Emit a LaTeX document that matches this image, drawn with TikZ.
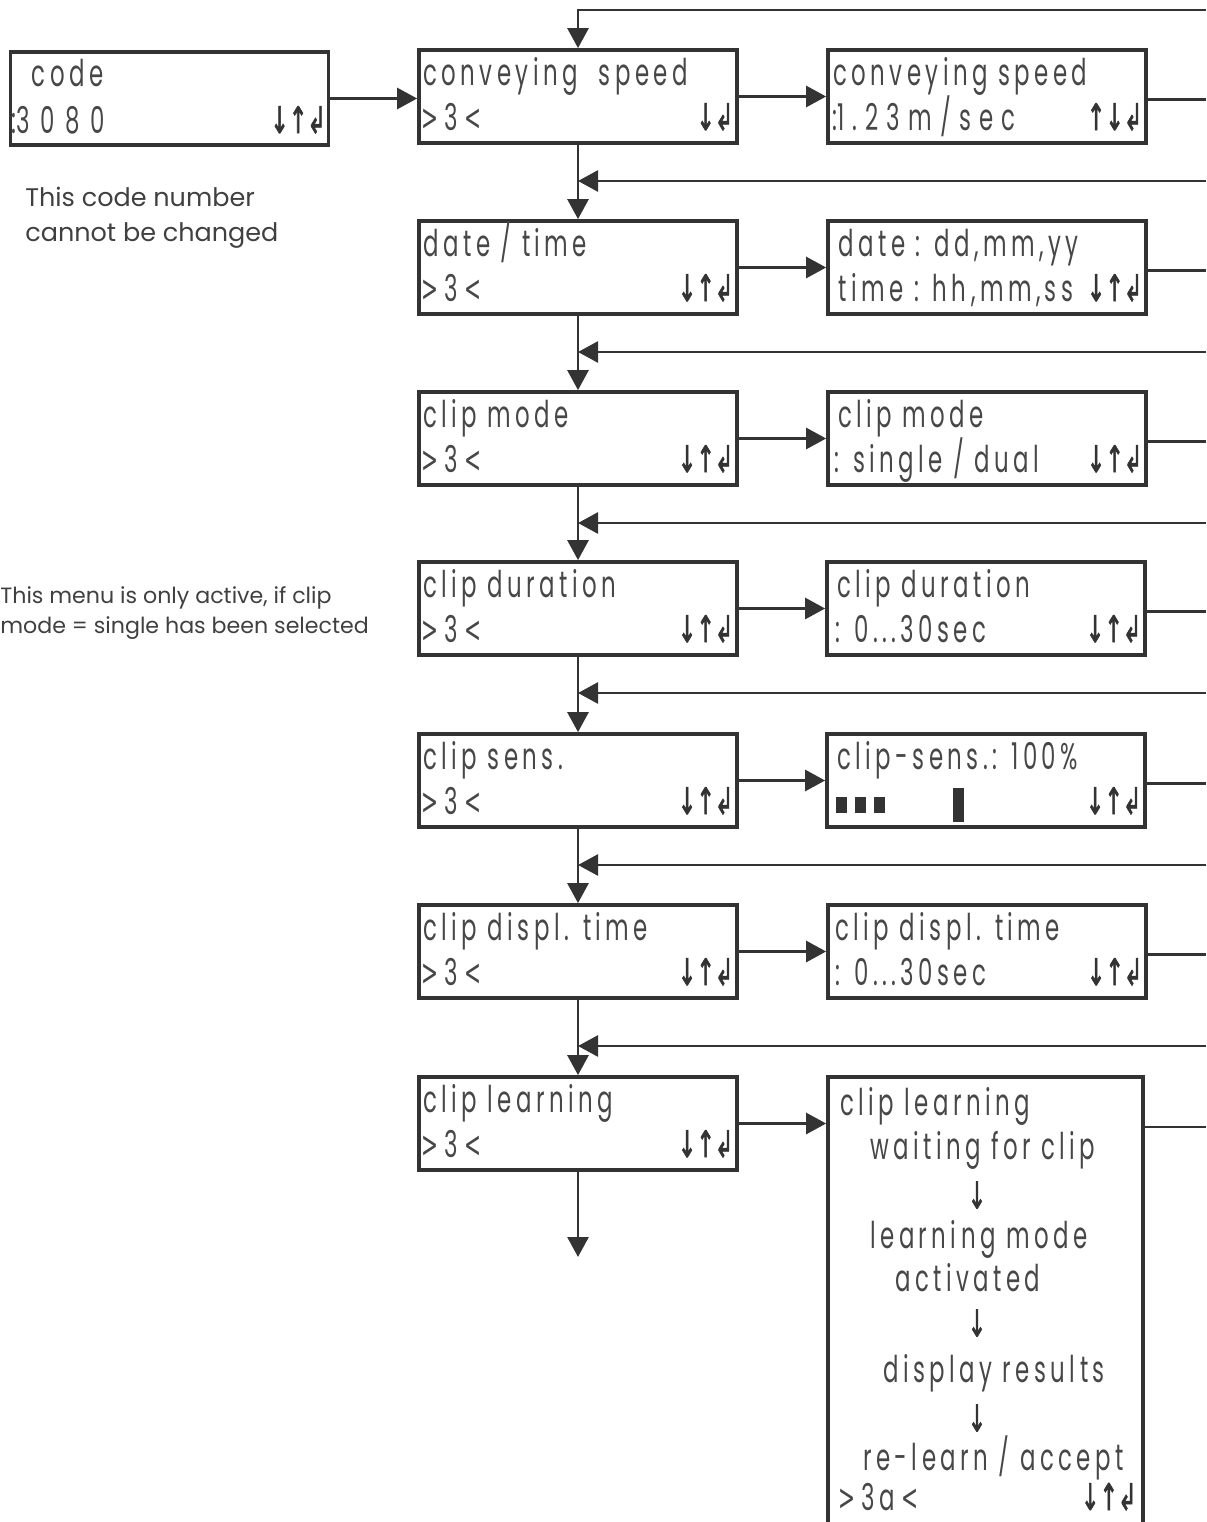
\documentclass[tikz,border=0pt]{standalone}
\usepackage{fontspec}
\setmainfont{Poppins}
\newfontfamily\lcdfont{Poppins}[FakeStretch=0.62,LetterSpace=12]
\newfontfamily\keyfont{DejaVu Sans}[FakeStretch=0.6,FakeBold=1.6]
\newfontfamily\chevfont{DejaVu Sans}[FakeStretch=0.55]
\usetikzlibrary{arrows.meta}
\definecolor{ink}{HTML}{333333}
\newcommand{\menuno}[1]{{\chevfont >}\,#1\,{\chevfont <}}

\tikzset{
  lcdbox/.style={draw=ink, line width=0.75mm, minimum width={318*0.2mm}, minimum height={93*0.2mm}, inner sep=0pt},
  lcd/.style={inner sep=0pt, text=black!72, anchor=base west, font=\lcdfont\fontsize{21}{25}\selectfont},
  keysym/.style={inner sep=0pt, text=ink, font=\keyfont\fontsize{21}{24}\selectfont},
  flow/.style={draw=ink, line width=0.55mm, -{Triangle[length=4mm,width=4.2mm]}},
  wire/.style={draw=ink, line width=0.55mm},
  note/.style={inner sep=0pt, text=black!75, anchor=base west},
}

\begin{document}
\begin{tikzpicture}[x=0.2mm,y=-0.2mm]
\useasboundingbox (0,0) rectangle (1206,1522);
\clip (0,0) rectangle (1206,1522);

% Draw the code display and its note
\node[lcdbox] (code) at (169.5,98.5) {};
\node[lcd] (codea) at ([shift={(23,36)}]code.north west) {code};
\node[lcd] (codeb) at ([shift={(3,83)}]code.north west) {:\addfontfeature{LetterSpace=28}3080};
\node[keysym, anchor=base east] (codek) at ([shift={(-4,83)}]code.north east) {↓↑↲};
\node[note, font=\fontsize{14.5}{17}\selectfont] (notea) at (25,207) {This code number};
\node[note, font=\fontsize{14.5}{17}\selectfont] (noteb) at (25,242) {cannot be changed};
\node[note, font=\fontsize{12.6}{15}\selectfont] (notec) at (0,603) {This menu is only active, if clip};
\node[note, font=\fontsize{12.6}{15}\selectfont] (noted) at (0,633) {mode = single has been selected};

% Draw the menu column
\node[lcdbox] (L1) at (578,96.5) {};
\node[lcdbox] (L2) at (578,267.5) {};
\node[lcdbox] (L3) at (578,438.5) {};
\node[lcdbox] (L4) at (578,608.5) {};
\node[lcdbox] (L5) at (578,780.5) {};
\node[lcdbox] (L6) at (578,951.5) {};
\node[lcdbox] (L7) at (578,1123.5) {};

\node[lcd] (L1a) at ([shift={(6,37)}]L1.north west) {conveying\ \ speed};
\node[lcd] (L2a) at ([shift={(6,37)}]L2.north west) {date / time};
\node[lcd] (L3a) at ([shift={(6,37)}]L3.north west) {clip mode};
\node[lcd] (L4a) at ([shift={(6,37)}]L4.north west) {clip duration};
\node[lcd] (L5a) at ([shift={(6,37)}]L5.north west) {clip sens.};
\node[lcd] (L6a) at ([shift={(6,37)}]L6.north west) {clip displ. time};
\node[lcd] (L7a) at ([shift={(6,37)}]L7.north west) {clip learning};

\node[lcd] (L1b) at ([shift={(4,82)}]L1.north west) {\menuno{3}};
\node[lcd] (L2b) at ([shift={(4,82)}]L2.north west) {\menuno{3}};
\node[lcd] (L3b) at ([shift={(4,82)}]L3.north west) {\menuno{3}};
\node[lcd] (L4b) at ([shift={(4,82)}]L4.north west) {\menuno{3}};
\node[lcd] (L5b) at ([shift={(4,82)}]L5.north west) {\menuno{3}};
\node[lcd] (L6b) at ([shift={(4,82)}]L6.north west) {\menuno{3}};
\node[lcd] (L7b) at ([shift={(4,82)}]L7.north west) {\menuno{3}};

\node[keysym, anchor=base east] (L1k) at ([shift={(-5,82)}]L1.north east) {↓↲};
\node[keysym, anchor=base east] (L2k) at ([shift={(-5,82)}]L2.north east) {↓↑↲};
\node[keysym, anchor=base east] (L3k) at ([shift={(-5,82)}]L3.north east) {↓↑↲};
\node[keysym, anchor=base east] (L4k) at ([shift={(-5,82)}]L4.north east) {↓↑↲};
\node[keysym, anchor=base east] (L5k) at ([shift={(-5,82)}]L5.north east) {↓↑↲};
\node[keysym, anchor=base east] (L6k) at ([shift={(-5,82)}]L6.north east) {↓↑↲};
\node[keysym, anchor=base east] (L7k) at ([shift={(-5,82)}]L7.north east) {↓↑↲};

% Draw the setting column
\node[lcdbox] (R1) at (987,96.5) {};
\node[lcdbox] (R2) at (987,267.5) {};
\node[lcdbox] (R3) at (987,438.5) {};
\node[lcdbox] (R4) at (986,608.5) {};
\node[lcdbox] (R5) at (986,780.5) {};
\node[lcdbox] (R6) at (987,951.5) {};
\node[lcdbox, minimum width={315*0.2mm}, minimum height={470*0.2mm}] (R7) at (985.5,1312) {};

\node[lcd] (R1a) at ([shift={(7,37)}]R1.north west) {conveying speed};
\node[lcd] (R1b) at ([shift={(6,82)}]R1.north west) {:\addfontfeature{LetterSpace=22}1.23m/sec};
\node[keysym, anchor=base east] (R1k) at ([shift={(-5,82)}]R1.north east) {↑↓↲};

\node[lcd] (R2a) at ([shift={(12,37)}]R2.north west) {date : dd,mm,yy};
\node[lcd] (R2b) at ([shift={(12,82)}]R2.north west) {time : hh,mm,ss};
\node[keysym, anchor=base east] (R2k) at ([shift={(-5,82)}]R2.north east) {↓↑↲};

\node[lcd] (R3a) at ([shift={(12,37)}]R3.north west) {clip mode};
\node[lcd] (R3b) at ([shift={(8,82)}]R3.north west) {: single / dual};
\node[keysym, anchor=base east] (R3k) at ([shift={(-5,82)}]R3.north east) {↓↑↲};

\node[lcd] (R4a) at ([shift={(12,37)}]R4.north west) {clip duration};
\node[lcd] (R4b) at ([shift={(10,82)}]R4.north west) {: 0...30sec};
\node[keysym, anchor=base east] (R4k) at ([shift={(-5,82)}]R4.north east) {↓↑↲};

\node[lcd] (R5a) at ([shift={(12,37)}]R5.north west) {clip-sens.: 100\%};
\node[keysym, anchor=base east] (R5k) at ([shift={(-5,82)}]R5.north east) {↓↑↲};
\fill[ink] (836,797) rectangle (847,813);
\fill[ink] (855,797) rectangle (866,813);
\fill[ink] (874,797) rectangle (885,813);
\fill[ink] (953,788) rectangle (964,822);

\node[lcd] (R6a) at ([shift={(9,37)}]R6.north west) {clip displ. time};
\node[lcd] (R6b) at ([shift={(9,82)}]R6.north west) {: 0...30sec};
\node[keysym, anchor=base east] (R6k) at ([shift={(-5,82)}]R6.north east) {↓↑↲};

\node[lcd] (R7a) at (840,1115) {clip learning};
\node[lcd] (R7b) at (870,1159) {waiting for clip};
\node[keysym] (R7c) at (977,1195) {↓};
\node[lcd] (R7d) at (870,1248) {learning mode};
\node[lcd] (R7e) at (895,1291) {activated};
\node[keysym] (R7f) at (977,1323) {↓};
\node[lcd] (R7g) at (883,1382) {display results};
\node[keysym] (R7h) at (977,1418) {↓};
\node[lcd] (R7i) at (863,1470) {re-learn / accept};
\node[lcd] (R7j) at (838,1510) {\menuno{3a}};
\node[keysym, anchor=base east] (R7k) at (1137,1510) {↓↑↲};

% Return points at the right edge
\coordinate (back0) at (1206,10);
\coordinate (back1) at (1206,181);
\coordinate (back2) at (1206,352);
\coordinate (back3) at (1206,523);
\coordinate (back4) at (1206,693);
\coordinate (back5) at (1206,865);
\coordinate (back6) at (1206,1046);
\coordinate (exit7) at (1206,1127);
\coordinate (last) at (578,1257);

% Draw the connectors
\draw[flow] (code.east) -- (code.east -| L1.west);
\draw[flow] (back0) -| (L1.north);
\draw[flow] (L1.south) -- (L2.north);
\draw[flow] (L2.south) -- (L3.north);
\draw[flow] (L3.south) -- (L4.north);
\draw[flow] (L4.south) -- (L5.north);
\draw[flow] (L5.south) -- (L6.north);
\draw[flow] (L6.south) -- (L7.north);
\draw[flow] (L7.south) -- (last);

\draw[flow] (L1.east) -- (L1.east -| R1.west);
\draw[flow] (L2.east) -- (L2.east -| R2.west);
\draw[flow] (L3.east) -- (L3.east -| R3.west);
\draw[flow] (L4.east) -- (L4.east -| R4.west);
\draw[flow] (L5.east) -- (L5.east -| R5.west);
\draw[flow] (L6.east) -- (L6.east -| R6.west);
\draw[flow] (L7.east) -- (L7.east -| R7.west);

\draw[wire] ([yshift=-0.6mm]R1.east) -- ([yshift=-0.6mm]R1.east -| back0);
\draw[wire] ([yshift=-0.6mm]R2.east) -- ([yshift=-0.6mm]R2.east -| back0);
\draw[wire] ([yshift=-0.6mm]R3.east) -- ([yshift=-0.6mm]R3.east -| back0);
\draw[wire] ([yshift=-0.6mm]R4.east) -- ([yshift=-0.6mm]R4.east -| back0);
\draw[wire] ([yshift=-0.6mm]R5.east) -- ([yshift=-0.6mm]R5.east -| back0);
\draw[wire] ([yshift=-0.6mm]R6.east) -- ([yshift=-0.6mm]R6.east -| back0);
\draw[wire] (exit7 -| R7.east) -- (exit7);

\draw[flow] (back1) -- (back1 -| L2.north);
\draw[flow] (back2) -- (back2 -| L3.north);
\draw[flow] (back3) -- (back3 -| L4.north);
\draw[flow] (back4) -- (back4 -| L5.north);
\draw[flow] (back5) -- (back5 -| L6.north);
\draw[flow] (back6) -- (back6 -| L7.north);

\end{tikzpicture}
\end{document}
